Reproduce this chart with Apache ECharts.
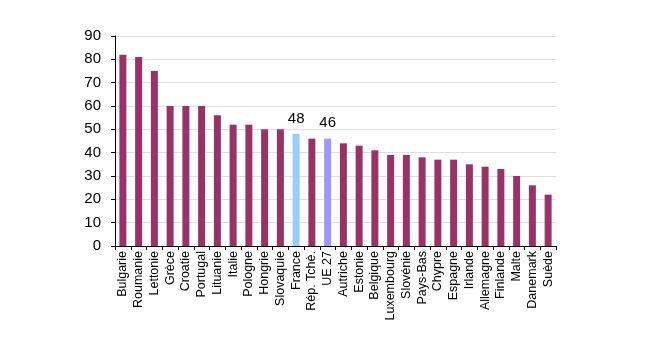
<!DOCTYPE html>
<html><head><meta charset="utf-8">
<script src="https://cdn.jsdelivr.net/npm/echarts@6/dist/echarts.min.js"></script>
<style>html,body{margin:0;padding:0;background:#fff}#c{width:650px;height:339px}</style>
</head><body><div id="c"></div>
<script>
const categories = ["Bulgarie","Roumanie","Lettonie","Grèce","Croatie","Portugal","Lituanie","Italie","Pologne","Hongrie","Slovaquie","France","Rép. Tchè.","UE 27","Autriche","Estonie","Belgique","Luxembourg","Slovénie","Pays-Bas","Chypre","Espagne","Irlande","Allemagne","Finlande","Malte","Danemark","Suède"];
const values = [82,81,75,60,60,60,56,52,52,50,50,48,46,46,44,43,41,39,39,38,37,37,35,34,33,30,26,22];
const yTicks = [0,10,20,30,40,50,60,70,80,90];
const highlight = {"France":"#99CCFF","UE 27":"#9999FF"};
const labelled = ["France","UE 27"];

const chart = echarts.init(document.getElementById('c'), null, {renderer:'canvas'});
chart.setOption({
  animation:false,
  grid:{left:115,right:94,top:36,bottom:93,containLabel:false},
  xAxis:{type:'category',data:categories,
    axisLine:{lineStyle:{color:'#000',width:1}},
    axisTick:{show:true,alignWithLabel:false,length:4,lineStyle:{color:'#000'}},
    axisLabel:{rotate:90,interval:0,color:'#000',fontFamily:'Liberation Sans, Arial',fontSize:12.5,margin:5}
  },
  yAxis:{type:'value',min:yTicks[0],max:yTicks[yTicks.length-1],interval:10,
    axisLine:{show:true,lineStyle:{color:'#000',width:1}},
    axisTick:{show:true,length:4,lineStyle:{color:'#000'}},
    axisLabel:{color:'#000',fontFamily:'Liberation Sans, Arial',fontSize:15,margin:14},
    splitLine:{lineStyle:{color:'#e0e0e0'}}
  },
  series:[{type:'bar',barWidth:7,
    data:values.map((v,i)=>({value:v,
      itemStyle:{color:highlight[categories[i]]||'#993366'},
      label:{show:labelled.includes(categories[i]),position:'top',distance:8,color:'#000',fontFamily:'Liberation Sans, Arial',fontSize:15}
    }))
  }]
});
</script></body></html>
